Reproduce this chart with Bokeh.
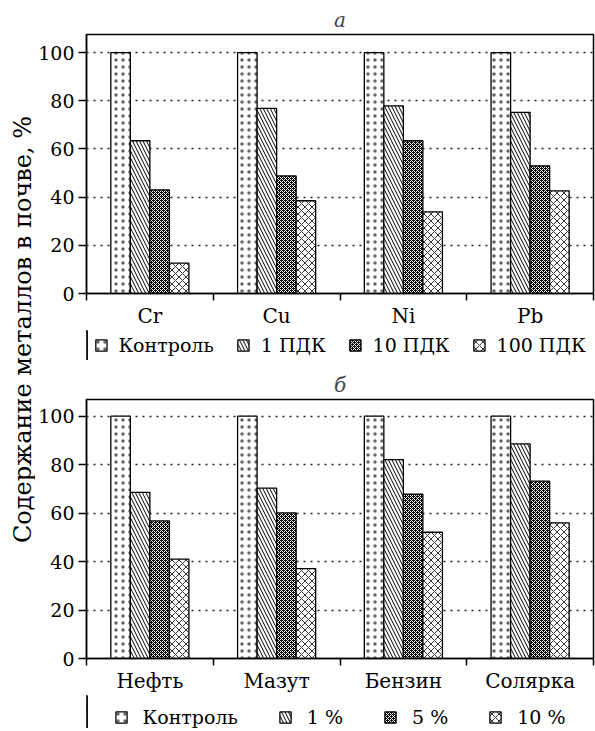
import numpy as np
from bokeh.plotting import figure
from bokeh.models import (ColumnDataSource, Range1d, FixedTicker, Legend, LegendItem, Label)
from bokeh.layouts import row, column
from bokeh.transform import dodge
from bokeh.embed import file_html
from bokeh.resources import INLINE

# ---------------- data ----------------
metals = ["Cr", "Cu", "Ni", "Pb"]
metal_series = ["Контроль", "1 ПДК", "10 ПДК", "100 ПДК"]
metal_control = [100, 100, 100, 100]
metal_1pdk = [63.4, 76.8, 77.9, 75.2]
metal_10pdk = [43.0, 48.8, 63.4, 53.0]
metal_100pdk = [12.6, 38.5, 33.9, 42.6]

fuels = ["Нефть", "Мазут", "Бензин", "Солярка"]
fuel_series = ["Контроль", "1 %", "5 %", "10 %"]
fuel_control = [100, 100, 100, 100]
fuel_1 = [68.6, 70.3, 82.1, 88.6]
fuel_5 = [56.8, 60.1, 67.8, 73.2]
fuel_10 = [41.0, 37.1, 52.1, 56.0]

y_ticks = [0, 20, 40, 60, 80, 100]
y_label = "Содержание металлов в почве, %"

FONT = "DejaVu Serif"

styles = [
    dict(fill_color="white", hatch_color="black", hatch_pattern="dot", hatch_scale=7,
         hatch_weight=0.5, hatch_alpha=0.6),
    dict(fill_color="white", hatch_color="black", hatch_pattern="left_diagonal_line", hatch_scale=7, hatch_weight=1.0),
    dict(fill_color="black", hatch_color="white", hatch_pattern="diagonal_cross", hatch_scale=4, hatch_weight=1.0),
    dict(fill_color="white", hatch_color="black", hatch_pattern="diagonal_cross", hatch_scale=7, hatch_weight=0.8),
]
offsets = [-0.231, -0.077, 0.077, 0.231]
BAR_W = 0.154


def make_source(values):
    data = {"x": list(range(len(values[0])))}
    for i, v in enumerate(values):
        data[f"s{i}"] = v
    return ColumnDataSource(data)


def add_bars(p, src):
    rs = []
    for i, (off, st) in enumerate(zip(offsets, styles)):
        rs.append(p.vbar(x=dodge("x", off, range=p.x_range), top=f"s{i}", width=BAR_W,
                         source=src, line_color="black", line_width=1.3, **st))
    return rs


def make_panel(cats, src, title, ymax, mb_top, mb_bottom):
    p = figure(frame_width=507, frame_height=259, output_backend="svg", toolbar_location=None,
               x_range=Range1d(-0.5, len(cats) - 0.5), y_range=Range1d(0, ymax),
               min_border_left=50, min_border_right=2, min_border_top=mb_top,
               min_border_bottom=mb_bottom)
    p.title.text = title
    p.title.align = "center"
    p.title.text_font = FONT
    p.title.text_font_style = "italic"
    p.title.text_font_size = "20px"
    p.title.standoff = 6

    add_bars(p, src)

    p.outline_line_color = "black"
    p.outline_line_width = 1.5
    p.background_fill_color = "white"
    p.border_fill_color = "white"

    # y axis
    p.yaxis.ticker = FixedTicker(ticks=y_ticks)
    p.yaxis.major_tick_in = 0
    p.yaxis.major_tick_out = 8
    p.yaxis.major_label_standoff = 4
    p.yaxis.major_label_text_font = FONT
    p.yaxis.major_label_text_font_size = "19px"
    p.yaxis.major_label_text_color = "black"
    p.yaxis.axis_line_width = 1.5
    p.yaxis.major_tick_line_width = 1.5

    # x axis: labels at group centres, ticks at group boundaries
    p.xaxis.ticker = FixedTicker(ticks=list(range(len(cats))),
                                 minor_ticks=[i - 0.5 for i in range(len(cats) + 1)])
    p.xaxis.major_label_overrides = {i: c for i, c in enumerate(cats)}
    p.xaxis.major_tick_in = 0
    p.xaxis.major_tick_out = 0
    p.xaxis.minor_tick_in = 0
    p.xaxis.minor_tick_out = 7
    p.xaxis.minor_tick_line_width = 1.5
    p.xaxis.minor_tick_line_color = "black"
    p.xaxis.major_label_standoff = 3
    p.xaxis.major_label_text_font = FONT
    p.xaxis.major_label_text_font_size = "20px"
    p.xaxis.major_label_text_color = "black"
    p.xaxis.axis_line_width = 1.5

    p.xgrid.visible = False
    p.ygrid.grid_line_color = "#222222"
    p.ygrid.grid_line_width = 1.6
    p.ygrid.grid_line_dash = "2 5"
    return p


def make_legend(names, src, height, loc, standoff, spacing):
    # legend strip; its bars lie outside the visible x range, only the legend shows
    q = figure(frame_width=507, height=height, output_backend="svg", toolbar_location=None,
               x_range=Range1d(10, 11), y_range=Range1d(0, 1),
               x_axis_location=None, y_axis_location=None,
               min_border_left=50, min_border_right=2, min_border_top=0, min_border_bottom=0,
               outline_line_color=None)
    q.grid.visible = False
    rs = add_bars(q, src)
    items = [LegendItem(label=names[i], renderers=[r]) for i, r in enumerate(rs)]
    leg = Legend(items=items, orientation="horizontal", location=loc,
                 label_text_font=FONT, label_text_font_size="19px", label_text_color="black",
                 glyph_width=14, glyph_height=14, label_standoff=standoff,
                 spacing=spacing, padding=0, margin=0,
                 border_line_color=None, background_fill_alpha=0)
    q.add_layout(leg)
    return q


src_top = make_source([metal_control, metal_1pdk, metal_10pdk, metal_100pdk])
src_bot = make_source([fuel_control, fuel_1, fuel_5, fuel_10])

top = make_panel(metals, src_top, "а", 107.5, 34, 35)
top_leg = make_legend(metal_series, src_top, 30, "center", 11, 22)
bottom = make_panel(fuels, src_bot, "б", 106.9, 39, 34)
bottom_leg = make_legend(fuel_series, src_bot, 33, "bottom_center", 15, 40)

lab = figure(width=35, height=723, output_backend="svg", toolbar_location=None,
             x_range=Range1d(0, 35), y_range=Range1d(0, 723),
             x_axis_location=None, y_axis_location=None,
             min_border=0, outline_line_color=None)
lab.grid.visible = False
lab.add_layout(Label(x=22, y=394, text=y_label, angle=np.pi / 2,
                     text_align="center", text_baseline="middle",
                     text_font=FONT, text_font_size="24px", text_color="black"))

layout = row(lab, column(top, top_leg, bottom, bottom_leg))

with open("out.html", "w") as f:
    f.write(file_html(layout, INLINE))
